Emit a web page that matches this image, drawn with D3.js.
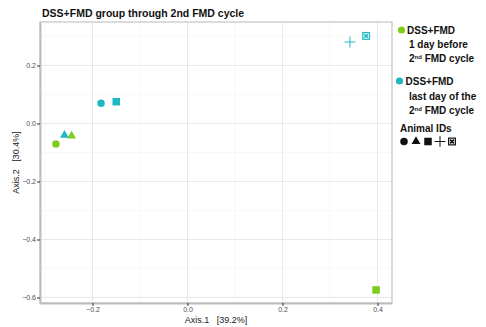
<!DOCTYPE html>
<html>
<head>
<meta charset="utf-8">
<script src="https://cdn.jsdelivr.net/npm/d3@7"></script>
<style>
  body { margin: 0; background: #fff; }
  text { font-family: "Liberation Sans", Arial, sans-serif; }
</style>
</head>
<body>
<div class="chart"></div>
<script>
// ordination points
const groups = ['before', 'last'];
const group_colors = ['#7ccd1e', '#1fb8c2'];
const animal_ids = ['A1', 'A2', 'A3', 'A4', 'A5'];
const animal_shapes = ['circle', 'triangle', 'square', 'plus', 'boxx'];

const point_group = ['before', 'before', 'before', 'last', 'last', 'last', 'last', 'last'];
const point_animal = ['A1', 'A2', 'A3', 'A1', 'A2', 'A3', 'A4', 'A5'];
const axis1 = [-0.277, -0.244, 0.397, -0.182, -0.259, -0.150, 0.342, 0.376];
const axis2 = [-0.071, -0.043, -0.574, 0.070, -0.040, 0.075, 0.281, 0.302];

const x_ticks = [-0.2, 0.0, 0.2, 0.4];
const y_ticks = [0.2, 0.0, -0.2, -0.4, -0.6];
const x_domain = [-0.3105, 0.4305];
const y_domain = [-0.619, 0.35];

const points = axis1.map((d, i) => ({
   x: d, y: axis2[i], group: point_group[i], animal: point_animal[i]
}));

const W = 486, H = 327;
const panel = {left: 40, top: 22, right: 392, bottom: 303};

const svg = d3.select('.chart').append('svg')
   .attr('width', W).attr('height', H);

const x_scale = d3.scaleLinear().domain(x_domain).range([panel.left, panel.right]);
const y_scale = d3.scaleLinear().domain(y_domain).range([panel.bottom, panel.top]);
const color = d3.scaleOrdinal().domain(groups).range(group_colors);
const shape = d3.scaleOrdinal().domain(animal_ids).range(animal_shapes);

// minor grid (half way between major ticks)
const x_minor = d3.range(-0.3, 0.45, 0.2);
const y_minor = d3.range(-0.5, 0.35, 0.2);
const grid = svg.append('g');
grid.selectAll('.xmin').data(x_minor).enter().append('line')
   .attr('x1', d => x_scale(d)).attr('x2', d => x_scale(d))
   .attr('y1', panel.top).attr('y2', panel.bottom)
   .style('stroke', '#f4f4f4').style('stroke-width', 0.6);
grid.selectAll('.ymin').data(y_minor).enter().append('line')
   .attr('y1', d => y_scale(d)).attr('y2', d => y_scale(d))
   .attr('x1', panel.left).attr('x2', panel.right)
   .style('stroke', '#f4f4f4').style('stroke-width', 0.6);
grid.selectAll('.xmaj').data(x_ticks).enter().append('line')
   .attr('x1', d => x_scale(d)).attr('x2', d => x_scale(d))
   .attr('y1', panel.top).attr('y2', panel.bottom)
   .style('stroke', '#e8e8e8').style('stroke-width', 1);
grid.selectAll('.ymaj').data(y_ticks).enter().append('line')
   .attr('y1', d => y_scale(d)).attr('y2', d => y_scale(d))
   .attr('x1', panel.left).attr('x2', panel.right)
   .style('stroke', '#e8e8e8').style('stroke-width', 1);

// panel border
svg.append('rect')
   .attr('x', panel.left).attr('y', panel.top)
   .attr('width', panel.right - panel.left).attr('height', panel.bottom - panel.top)
   .style('fill', 'none').style('stroke', '#b8b8b8').style('stroke-width', 1);

// axes
const x_axis = d3.axisBottom(x_scale).tickValues(x_ticks)
   .tickFormat(d3.format('.1f')).tickSize(3).tickSizeOuter(0);
const y_axis = d3.axisLeft(y_scale).tickValues(y_ticks)
   .tickFormat(d3.format('.1f')).tickSize(3).tickSizeOuter(0);

const gx = svg.append('g').attr('transform', `translate(0, ${panel.bottom})`).call(x_axis);
const gy = svg.append('g').attr('transform', `translate(${panel.left}, 0)`).call(y_axis);
[gx, gy].forEach(g => {
   g.select('.domain').style('stroke', '#bdbdbd').style('stroke-width', 2);
   g.selectAll('.tick line').style('stroke', '#333');
   g.selectAll('.tick text').style('font-size', '7px').style('fill', '#4d4d4d');
});
gx.selectAll('.tick text').attr('y', 4.5);
gy.selectAll('.tick text').attr('x', -4);

// axis titles
svg.append('text')
   .attr('x', (panel.left + panel.right) / 2).attr('y', 322.5)
   .attr('text-anchor', 'middle')
   .style('font-size', '9px').style('fill', '#222')
   .attr('xml:space', 'preserve')
   .text('Axis.1   [39.2%]');
svg.append('text')
   .attr('transform', `translate(19, ${(panel.top + panel.bottom) / 2}) rotate(-90)`)
   .attr('text-anchor', 'middle')
   .style('font-size', '9px').style('fill', '#222')
   .attr('xml:space', 'preserve')
   .text('Axis.2   [30.4%]');

// title
svg.append('text')
   .attr('x', 42).attr('y', 17)
   .style('font-size', '10.5px').style('font-weight', 'bold').style('fill', '#111')
   .text('DSS+FMD group through 2nd FMD cycle');

// marker drawing
function draw_marker(sel, kind, fill, s) {
   if (kind === 'circle') {
      sel.append('circle').attr('r', s * 0.5).style('fill', fill);
   } else if (kind === 'triangle') {
      sel.append('path').attr('d', d3.symbol(d3.symbolTriangle, s * s * 0.62)()).style('fill', fill);
   } else if (kind === 'square') {
      sel.append('rect').attr('x', -s / 2).attr('y', -s / 2)
         .attr('width', s).attr('height', s).style('fill', fill);
   } else if (kind === 'plus') {
      const h = s * 0.72;
      sel.append('path').attr('d', `M${-h},0H${h}M0,${-h}V${h}`)
         .style('stroke', fill).style('stroke-width', 1).style('fill', 'none');
   } else if (kind === 'boxx') {
      const h = s * 0.45;
      sel.append('rect').attr('x', -h).attr('y', -h).attr('width', 2 * h).attr('height', 2 * h)
         .style('fill', 'none').style('stroke', fill).style('stroke-width', 1.2);
      const k = h * 0.55;
      sel.append('path').attr('d', `M${-k},${-k}L${k},${k}M${-k},${k}L${k},${-k}`)
         .style('stroke', fill).style('stroke-width', 1.6);
   }
}

const marks = svg.append('g').selectAll('.pt')
   .data(points).enter().append('g')
   .attr('transform', d => `translate(${x_scale(d.x)}, ${y_scale(d.y)})`);
marks.each(function(d) {
   draw_marker(d3.select(this), shape(d.animal), color(d.group), 7.5);
});

// legend
const lg = svg.append('g');
const legend_lines = [
   {key: 'before', dot: [401.5, 30], lines: [
      {x: 407, y: 34, parts: ['DSS+FMD']},
      {x: 409, y: 48, parts: ['1 day before']},
      {x: 409, y: 62, parts: ['2', 'nd', ' FMD cycle']}]},
   {key: 'last', dot: [399.5, 81], lines: [
      {x: 405.5, y: 85, parts: ['DSS+FMD']},
      {x: 409, y: 100, parts: ['last day of the']},
      {x: 409, y: 114, parts: ['2', 'nd', ' FMD cycle']}]}
];
legend_lines.forEach(item => {
   lg.append('circle').attr('cx', item.dot[0]).attr('cy', item.dot[1]).attr('r', 3.6)
      .style('fill', color(item.key));
   item.lines.forEach(l => {
      const t = lg.append('text').attr('x', l.x).attr('y', l.y)
         .attr('xml:space', 'preserve')
         .style('font-size', '10px').style('font-weight', 'bold').style('fill', '#111');
      l.parts.forEach((p, i) => {
         const ts = t.append('tspan').text(p);
         if (i === 1) ts.style('font-size', '6px').attr('dy', -3.5);
         if (i === 2) ts.attr('dy', 3.5);
      });
   });
});
lg.append('text').attr('x', 400).attr('y', 132)
   .style('font-size', '10px').style('font-weight', 'bold').style('fill', '#111')
   .text('Animal IDs');
animal_shapes.forEach((k, i) => {
   const g = lg.append('g').attr('transform', `translate(${404 + i * 12}, 141.5)`);
   draw_marker(g, k, '#111', 7.5);
});
</script>
</body>
</html>
